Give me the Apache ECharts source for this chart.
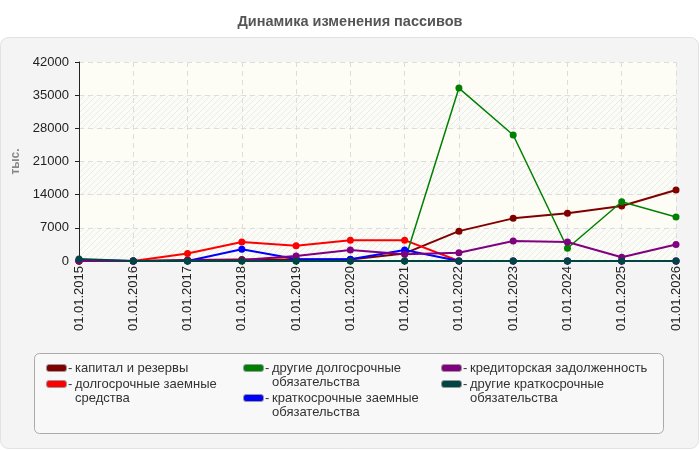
<!DOCTYPE html>
<html><head><meta charset="utf-8">
<script src="https://cdn.jsdelivr.net/npm/echarts@6/dist/echarts.min.js"></script>
<style>html,body{margin:0;padding:0;background:#fff}#c{width:700px;height:450px}</style>
</head><body><div id="c"></div>
<script>
var categories = ['01.01.2015','01.01.2016','01.01.2017','01.01.2018','01.01.2019','01.01.2020','01.01.2021','01.01.2022','01.01.2023','01.01.2024','01.01.2025','01.01.2026'];
var capital     = [0, 0, 200, 300, 300, 300, 1600, 6300, 9000, 10100, 11600, 15000];
var longLoans   = [0, 0, 1600, 4000, 3200, 4400, 4400, 0, 0, 0, 0, 0];
var otherLong   = [0, 0, 0, 0, 0, 0, 0, 36500, 26600, 2700, 12500, 9300];
var shortLoans  = [200, 0, 0, 2500, 400, 350, 2300, 0, 0, 0, 0, 0];
var payables    = [0, 0, 100, 200, 1050, 2300, 1400, 1750, 4200, 4000, 800, 3500];
var otherShort  = [400, 0, 0, 0, 0, 0, 0, 0, 0, 0, 0, 0];
var yTicks = [0, 7000, 14000, 21000, 28000, 35000, 42000];
var seriesNames = ['капитал и резервы','долгосрочные заемные средства','другие долгосрочные обязательства','краткосрочные заемные обязательства','кредиторская задолженность','другие краткосрочные обязательства'];
var legendLines = [['капитал и резервы'],['долгосрочные заемные','средства'],['другие долгосрочные','обязательства'],['краткосрочные заемные','обязательства'],['кредиторская задолженность'],['другие краткосрочные','обязательства']];
var colors = ['#800000','#ff0000','#008000','#0000ff','#800080','#004444'];
var seriesData = [capital, longLoans, otherLong, shortLoans, payables, otherShort];

var FONT = '"Liberation Sans", Arial, sans-serif';
var pc = document.createElement('canvas'); pc.width = 6; pc.height = 6;
var g = pc.getContext('2d');
g.fillStyle = '#fcfcf6'; g.fillRect(0,0,6,6);
g.strokeStyle = '#eaeaea'; g.lineWidth = 1;
g.beginPath(); g.moveTo(0,6); g.lineTo(6,0); g.moveTo(-1,1); g.lineTo(1,-1); g.moveTo(5,7); g.lineTo(7,5); g.stroke();

var chart = echarts.init(document.getElementById('c'), null, {renderer:'canvas'});
var series = seriesData.map(function(d,i){
  return {name: seriesNames[i], type:'line', data:d, symbol:'circle', symbolSize:7,
    lineStyle:{width: i===2 ? 1.5 : 2, color: colors[i]}, itemStyle:{color: colors[i]}, z: 2+i, animation:false};
});
var graphic = [
  {type:'rect', shape:{x:0.5,y:37.5,width:698,height:411,r:8}, style:{fill:'#f4f4f4', stroke:'#e2e2e2', lineWidth:1}, z:-10, silent:true},
  {type:'rect', shape:{x:34.5,y:353.5,width:629,height:80,r:5}, style:{fill:'#f8f8f8', stroke:'#aaaaaa', lineWidth:1}, z:-5, silent:true}
];
var colX = [46, 243, 441];
var pos = [[0,368],[0,384],[1,368],[1,398],[2,368],[2,384]];
legendLines.forEach(function(lines,i){
  var x = colX[pos[i][0]], y = pos[i][1];
  graphic.push({type:'rect', shape:{x:x+0.5,y:y-3.5,width:20,height:7,r:2.5}, style:{fill:colors[i], stroke:'#999', lineWidth:1}, z:10});
  graphic.push({type:'text', x:x+22, y:y, style:{text:'-', fill:'#333', font:'13px '+FONT, verticalAlign:'middle'}, z:10});
  graphic.push({type:'text', x:x+29, y:y, style:{text:lines[0], fill:'#333', font:'13px '+FONT, verticalAlign:'middle'}, z:10});
  if (lines[1]) graphic.push({type:'text', x:x+29, y:y+14, style:{text:lines[1], fill:'#333', font:'13px '+FONT, verticalAlign:'middle'}, z:10});
});
chart.setOption({
  animation:false,
  backgroundColor:'#ffffff',
  title:{text:'Динамика изменения пассивов', left:'center', top:9, textStyle:{fontSize:14.5, fontWeight:'bold', color:'#555', fontFamily:FONT}},
  grid:{left:79, right:24, top:62, bottom:189, containLabel:false},
  xAxis:{type:'category', data:categories, boundaryGap:false,
    axisLine:{show:false},
    axisTick:{show:true, length:4, lineStyle:{color:'#333'}},
    axisLabel:{rotate:90, fontSize:13, color:'#222', fontFamily:FONT, margin:5},
    splitLine:{show:true, lineStyle:{color:'#dddddd', type:[5,4]}}},
  yAxis:{type:'value', min:0, max:42000, interval:7000,
    name:'тыс.', nameLocation:'middle', nameGap:54, nameRotate:90,
    nameTextStyle:{color:'#888', fontWeight:'bold', fontSize:12, fontFamily:FONT},
    axisLine:{show:true, lineStyle:{color:'#222'}},
    axisTick:{show:true, length:4, lineStyle:{color:'#222'}},
    axisLabel:{fontSize:13, color:'#222', fontFamily:FONT, margin:10, formatter:function(v){return yTicks.indexOf(v)>=0 ? String(v) : '';}},
    splitLine:{show:true, lineStyle:{color:'#dddddd', type:[5,4]}},
    splitArea:{show:true, areaStyle:{color:[{image:pc, repeat:'repeat'}, '#fdfdf6']}}},
  graphic: graphic,
  series: series
});
</script></body></html>
